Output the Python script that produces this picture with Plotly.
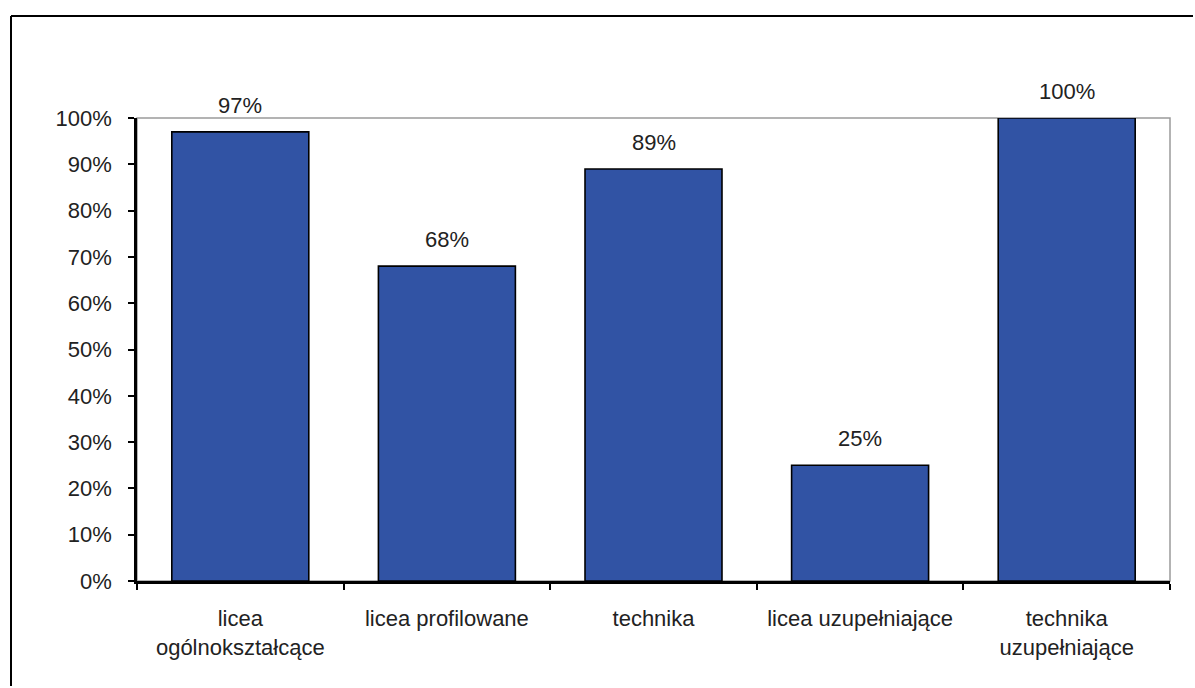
import plotly.graph_objects as go

# Share of schools by type (percent)
categories = [
    "licea<br>ogólnokształcące",
    "licea profilowane",
    "technika",
    "licea uzupełniające",
    "technika<br>uzupełniające",
]
values = [97, 68, 89, 25, 100]
value_labels = ["97%", "68%", "89%", "25%", "100%"]
y_ticks = list(range(0, 101, 10))
y_tick_labels = [f"{v}%" for v in y_ticks]

FONT = "Liberation Sans, Arial, sans-serif"
TEXT_COLOR = "#222222"
BAR_COLOR = "#3153A4"

W, H = 1195, 688
L, R, T, B = 137, 25, 118, 107
plot_w = W - L - R
plot_h = H - T - B


def px_to_paper_x(px):
    return (px - L) / plot_w


def px_to_paper_y(py):
    return (H - B - py) / plot_h


fig = go.Figure()
fig.add_trace(
    go.Bar(
        x=categories,
        y=values,
        marker=dict(color=BAR_COLOR, line=dict(color="black", width=1.6)),
        hoverinfo="skip",
    )
)

# value labels above the bars
for c, v, lab in zip(categories, values, value_labels):
    fig.add_annotation(
        x=c, y=v, text=lab, showarrow=False, yanchor="bottom", yshift=12,
        font=dict(family=FONT, size=22, color=TEXT_COLOR),
    )

frame_left = px_to_paper_x(11)
frame_top = px_to_paper_y(16)
shapes = [
    # thin grey frame of the plotting area (top/right)
    dict(type="rect", xref="paper", yref="paper", x0=0, y0=0, x1=1, y1=1,
         line=dict(color="#9a9a9a", width=1.5), layer="below"),
    # outer chart frame: top and left edges
    dict(type="line", xref="paper", yref="paper",
         x0=frame_left, y0=frame_top, x1=px_to_paper_x(W - 2), y1=frame_top,
         line=dict(color="black", width=2)),
    dict(type="line", xref="paper", yref="paper",
         x0=frame_left, y0=frame_top, x1=frame_left, y1=px_to_paper_y(H - 2),
         line=dict(color="black", width=2)),
]

fig.update_layout(
    width=W, height=H,
    margin=dict(l=L, r=R, t=T, b=B),
    paper_bgcolor="white", plot_bgcolor="white",
    bargap=0.337,
    showlegend=False,
    shapes=shapes,
    font=dict(family=FONT, size=22, color=TEXT_COLOR),
)
fig.update_xaxes(
    showline=True, linecolor="black", linewidth=2.5,
    ticks="outside", tickson="boundaries", ticklen=6, tickwidth=1.5, tickcolor="black",
    showgrid=False, tickfont=dict(family=FONT, size=22, color=TEXT_COLOR),
    ticklabelstandoff=16,
)
fig.update_yaxes(
    range=[0, 100], tickvals=y_ticks, ticktext=y_tick_labels,
    showline=True, linecolor="black", linewidth=2.5,
    ticks="outside", ticklen=6, tickwidth=1.5, tickcolor="black",
    showgrid=False, zeroline=False,
    tickfont=dict(family=FONT, size=22, color=TEXT_COLOR),
    ticklabelstandoff=12,
)

fig.write_html("out.html")
